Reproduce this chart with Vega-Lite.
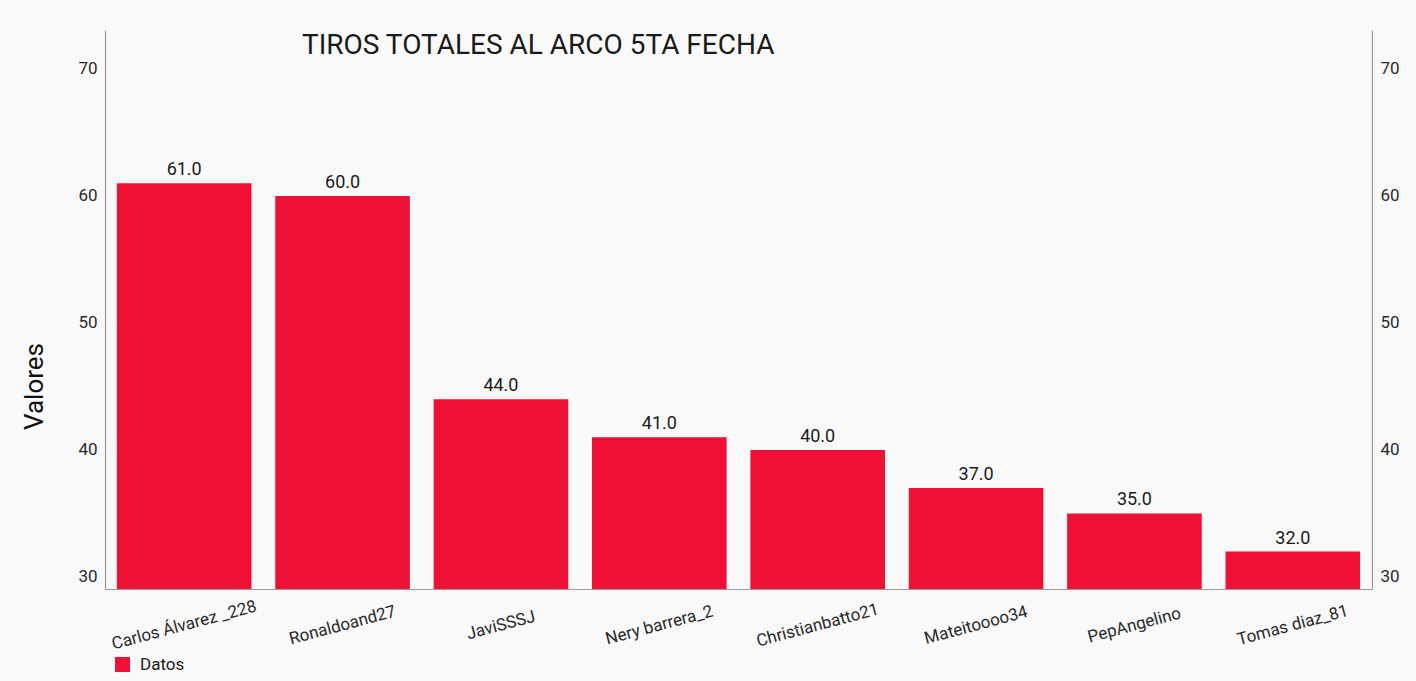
{
  "$schema": "https://vega.github.io/schema/vega-lite/v6.json",
  "width": 1267,
  "height": 559,
  "autosize": {"type": "none"},
  "padding": {"left": 105, "top": 30, "right": 44, "bottom": 92},
  "background": "#f9f9f9",
  "config": {
    "font": "Roboto",
    "view": {"stroke": null},
    "axis": {"grid": false, "ticks": false, "domainColor": "#9a9a9a", "domainWidth": 1.2, "labelColor": "#2a2a2a", "labelFont": "Roboto", "titleFont": "Roboto"}
  },
  "title": {
    "text": "TIROS TOTALES AL ARCO 5TA FECHA",
    "anchor": "start",
    "frame": "group",
    "orient": "top",
    "offset": 0,
    "baseline": "alphabetic",
    "dx": 197,
    "dy": 52,
    "fontSize": 28,
    "fontWeight": "normal",
    "color": "#1a1a1a",
    "font": "Roboto"
  },
  "data": {
    "values": [
      {"jugador": "Carlos Álvarez _228", "valor": 61, "serie": "Datos"},
      {"jugador": "Ronaldoand27", "valor": 60, "serie": "Datos"},
      {"jugador": "JaviSSSJ", "valor": 44, "serie": "Datos"},
      {"jugador": "Nery barrera_2", "valor": 41, "serie": "Datos"},
      {"jugador": "Christianbatto21", "valor": 40, "serie": "Datos"},
      {"jugador": "Mateitoooo34", "valor": 37, "serie": "Datos"},
      {"jugador": "PepAngelino", "valor": 35, "serie": "Datos"},
      {"jugador": "Tomas diaz_81", "valor": 32, "serie": "Datos"}
    ]
  },
  "encoding": {
    "x": {
      "field": "jugador",
      "type": "nominal",
      "sort": null,
      "scale": {"paddingInner": 0.15, "paddingOuter": 0.075},
      "axis": {"title": null, "labelAngle": -15, "labelAlign": "center", "labelBaseline": "middle", "labelPadding": 36, "labelFontSize": 17, "tickSize": 0}
    }
  },
  "layer": [
    {
      "mark": {"type": "bar", "clip": true},
      "encoding": {
        "y": {
          "field": "valor",
          "type": "quantitative",
          "scale": {"domain": [29.05, 73.07], "nice": false, "zero": false},
          "axis": {"orient": "left", "values": [30, 40, 50, 60, 70], "labelFontSize": 17, "labelPadding": 8, "tickSize": 0, "title": "Valores", "titleFontSize": 26, "titleFontWeight": "normal", "titleColor": "#111111", "titleX": -71, "titleY": 356, "titleAlign": "center", "titleBaseline": "middle"}
        },
        "color": {
          "field": "serie",
          "type": "nominal",
          "scale": {"range": ["#ee1135"]},
          "legend": {"orient": "none", "legendX": 9, "legendY": 626, "title": null, "padding": 0, "symbolType": "square", "symbolSize": 225, "symbolStrokeWidth": 0, "symbolOpacity": 1, "labelFontSize": 17, "labelColor": "#1a1a1a", "labelOffset": 9, "labelFont": "Roboto"}
        }
      }
    },
    {
      "mark": {"type": "text", "baseline": "alphabetic", "dy": -8, "fontSize": 18, "color": "#1a1a1a"},
      "encoding": {
        "y": {
          "field": "valor",
          "type": "quantitative",
          "axis": {"orient": "right", "values": [30, 40, 50, 60, 70], "labelFontSize": 17, "labelPadding": 8, "tickSize": 0, "title": null}
        },
        "text": {"field": "valor", "type": "quantitative", "format": ".1f"}
      }
    }
  ],
  "resolve": {"axis": {"y": "independent"}}
}
